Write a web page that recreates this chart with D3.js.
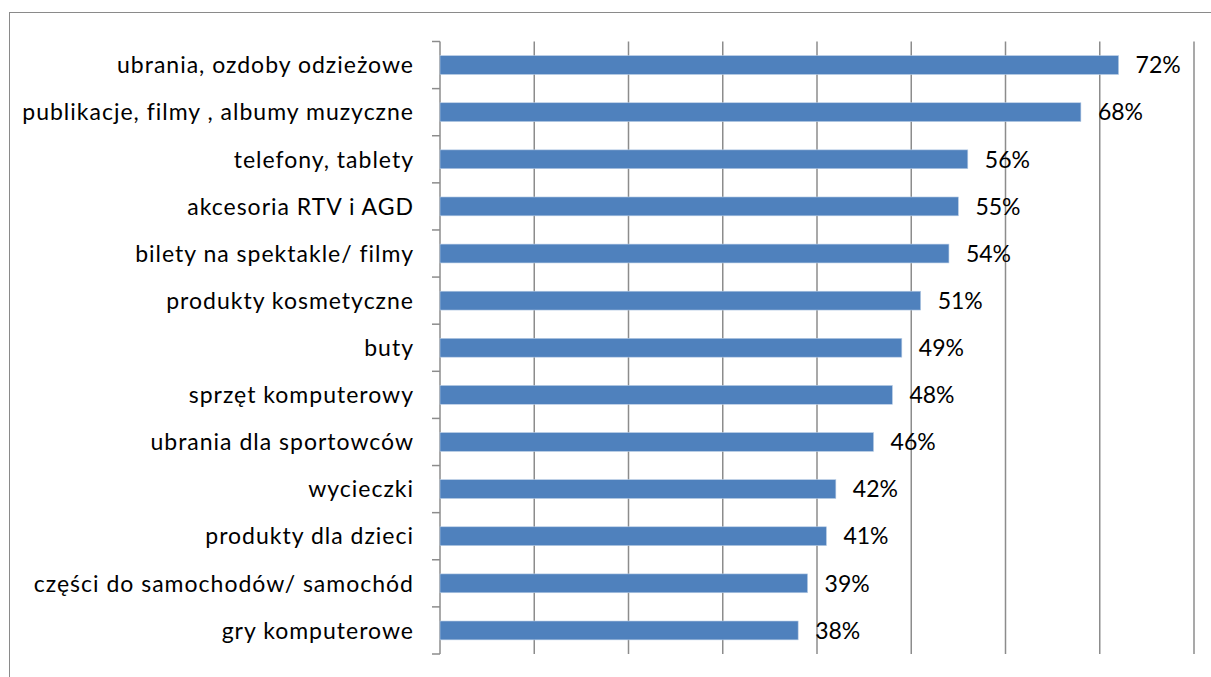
<!DOCTYPE html>
<html>
<head>
<meta charset="utf-8">
<script src="https://cdn.jsdelivr.net/npm/d3@7"></script>
<style>
  html, body { margin: 0; padding: 0; background: #ffffff; }
  svg { display: block; }
  text { font-family: Lato, "Open Sans", sans-serif; fill: #000; }
</style>
</head>
<body>
<svg id="chart" width="1211" height="677"></svg>
<script>
// Share of respondents by product category (percent)
const categories = [
  "ubrania, ozdoby odzieżowe",
  "publikacje, filmy , albumy muzyczne",
  "telefony, tablety",
  "akcesoria RTV i AGD",
  "bilety na spektakle/ filmy",
  "produkty kosmetyczne",
  "buty",
  "sprzęt komputerowy",
  "ubrania dla sportowców",
  "wycieczki",
  "produkty dla dzieci",
  "części do samochodów/ samochód",
  "gry komputerowe"
];
const values = [72, 68, 56, 55, 54, 51, 49, 48, 46, 42, 41, 39, 38];
const xTicks = [0, 10, 20, 30, 40, 50, 60, 70, 80];

const svg = d3.select("#chart");
const W = 1211, H = 677;
const plotLeft = 440, plotRight = 1194, plotTop = 41.5, plotBottom = 654;

// outer frame (runs off the right and bottom edge)
svg.append("rect")
  .attr("x", 9.5).attr("y", 12.5)
  .attr("width", W + 20).attr("height", H + 20)
  .attr("fill", "none").attr("stroke", "#8a8a8a").attr("stroke-width", 1);

const x = d3.scaleLinear().domain([0, 80]).range([plotLeft, plotRight]);
const y = d3.scaleBand().domain(categories).range([plotTop, plotBottom]).paddingInner(0.6).paddingOuter(0.3);
const yBand = d3.scaleBand().domain(categories).range([plotTop, plotBottom]);

// vertical gridlines
svg.append("g").selectAll("line").data(xTicks.slice(1)).join("line")
  .attr("x1", d => x(d)).attr("x2", d => x(d))
  .attr("y1", plotTop).attr("y2", plotBottom)
  .attr("stroke", "#8c8c8c").attr("stroke-width", 1.5);

// category axis with tick marks at band boundaries
const axisG = svg.append("g");
axisG.append("line")
  .attr("x1", plotLeft).attr("x2", plotLeft).attr("y1", plotTop).attr("y2", plotBottom)
  .attr("stroke", "#8c8c8c").attr("stroke-width", 1.5);
const bounds = categories.map(c => yBand(c)).concat([plotBottom]);
axisG.selectAll("line.tick").data(bounds).join("line")
  .attr("class", "tick")
  .attr("x1", plotLeft - 8).attr("x2", plotLeft)
  .attr("y1", d => d).attr("y2", d => d)
  .attr("stroke", "#8c8c8c").attr("stroke-width", 1.5);

// category labels
svg.append("g").selectAll("text").data(categories).join("text")
  .attr("x", 414)
  .attr("y", d => y(d) + y.bandwidth() / 2)
  .attr("dy", "0.36em")
  .attr("text-anchor", "end")
  .attr("font-size", 23)
  .attr("letter-spacing", 1)
  .text(d => d);

// bars
svg.append("g").selectAll("rect").data(values).join("rect")
  .attr("x", x(0))
  .attr("y", (d, i) => y(categories[i]))
  .attr("width", d => x(d) - x(0))
  .attr("height", y.bandwidth())
  .attr("fill", "#4f81bd")
  .attr("stroke", "#b9cde5").attr("stroke-width", 0.6);

// value labels
svg.append("g").selectAll("text").data(values).join("text")
  .attr("x", d => x(d) + 17)
  .attr("y", (d, i) => y(categories[i]) + y.bandwidth() / 2)
  .attr("dy", "0.36em")
  .attr("font-size", 23)
  .text(d => d + "%");
</script>
</body>
</html>
